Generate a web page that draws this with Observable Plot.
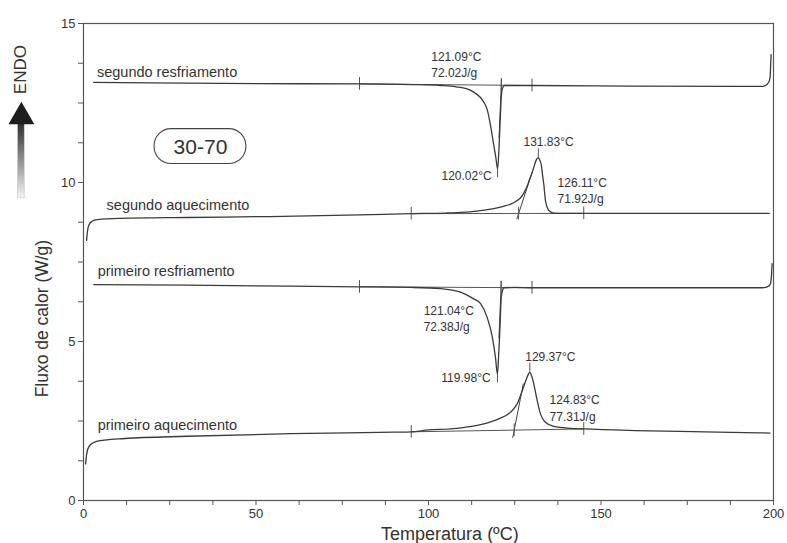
<!DOCTYPE html>
<html>
<head>
<meta charset="utf-8">
<script src="https://cdn.jsdelivr.net/npm/d3@7"></script>
<script src="https://cdn.jsdelivr.net/npm/@observablehq/plot@0.6"></script>
<style>
  body { margin: 0; background: #fff; }
</style>
</head>
<body>
<div id="chart"></div>
<script>
// DSC thermograms of the 30-70 blend: heat flow (W/g) vs temperature (°C)

// segundo resfriamento (second cooling)
const resf2T = [2.9, 20, 50, 80, 95, 103.5, 108, 111, 113, 115, 116, 117, 118, 118.8, 119.5, 120.02, 120.4, 120.8, 121.1, 121.5, 122, 125, 130, 160, 190, 196.7, 197.8, 198.6, 199.0, 199.15, 199.3];
const resf2Q = [13.15, 13.13, 13.11, 13.1, 13.08, 13.05, 13.01, 12.95, 12.85, 12.68, 12.53, 12.3, 11.78, 11.25, 10.8, 10.43, 11.0, 12.0, 12.7, 12.98, 13.05, 13.05, 13.05, 13.03, 13.02, 13.02, 13.06, 13.15, 13.3, 13.6, 14.02];

// segundo aquecimento (second heating)
const aq2T = [0.9, 1.2, 1.5, 2.5, 4, 10.7, 30, 54, 80, 95, 105, 109.3, 114, 118.9, 122, 123.8, 125.5, 126.7, 127.7, 128.6, 129.3, 130, 131, 131.4, 131.83, 132.2, 132.7, 133.1, 133.4, 133.9, 134.4, 134.9, 136.3, 140, 145, 170, 198.8];
const aq2Q = [8.18, 8.5, 8.65, 8.78, 8.83, 8.87, 8.9, 8.93, 8.98, 9.02, 9.04, 9.06, 9.1, 9.18, 9.26, 9.32, 9.42, 9.52, 9.68, 9.88, 10.1, 10.3, 10.64, 10.74, 10.78, 10.72, 10.55, 10.2, 9.96, 9.43, 9.22, 9.12, 9.04, 9.03, 9.03, 9.03, 9.03];

// primeiro resfriamento (first cooling)
const resf1T = [3, 30, 60, 80, 95, 103.5, 109.3, 113.1, 115.1, 117, 118.5, 119.4, 119.98, 120.3, 120.6, 121.1, 121.5, 121.8, 125, 130, 160, 196.7, 198, 198.8, 199.2, 199.4, 199.6];
const resf1Q = [6.79, 6.77, 6.74, 6.72, 6.7, 6.66, 6.55, 6.34, 6.19, 5.76, 5.14, 4.51, 3.98, 4.5, 5.14, 6.39, 6.62, 6.69, 6.7, 6.69, 6.69, 6.69, 6.71, 6.76, 6.85, 7.05, 7.45];

// primeiro aquecimento (first heating)
const aq1T = [0.6, 0.9, 1.5, 3, 6, 12, 30, 60, 90, 95, 100, 106.4, 112, 116, 120, 123.8, 125.7, 127.2, 128.4, 129.0, 129.37, 129.8, 130.3, 131.3, 132.3, 133.9, 136.3, 141.2, 145, 160, 180, 199];
const aq1Q = [1.15, 1.45, 1.68, 1.83, 1.9, 1.95, 2.02, 2.1, 2.15, 2.16, 2.22, 2.25, 2.32, 2.41, 2.55, 2.78, 3.04, 3.46, 3.83, 3.98, 4.04, 3.95, 3.77, 3.25, 2.78, 2.46, 2.33, 2.27, 2.25, 2.2, 2.16, 2.12];

// curve names and where their names are written
const curveNames = ["segundo resfriamento", "segundo aquecimento", "primeiro resfriamento", "primeiro aquecimento"];
const nameT = [3.9, 6.7, 4.1, 4.1];
const nameQ = [13.46, 9.28, 7.2, 2.36];

// integration limits (T) and baseline heat flow at those limits
const limitStartT = [80, 95, 80, 95];
const limitStartQ = [13.1, 9.02, 6.72, 2.16];
const limitEndT = [130, 145, 130, 145];
const limitEndQ = [13.05, 9.03, 6.69, 2.25];

// onset temperatures, enthalpies, peak temperatures
const onsetT = [121.09, 126.11, 121.04, 124.83];
const onsetQ = [13.06, 9.02, 6.7, 2.21];
const enthalpy = [72.02, 71.92, 72.38, 77.31];
const peakT = [120.02, 131.83, 119.98, 129.37];
const peakQ = [10.43, 10.78, 3.98, 4.04];
const peakDir = [-1, 1, -1, 1];

// onset tangent lines (end points)
const tangentT1 = [121.17, 125.6, 121.12, 124.4];
const tangentQ1 = [13.27, 8.85, 6.9, 1.97];
const tangentT2 = [120.45, 130.1, 120.4, 127.5];
const tangentQ2 = [11.4, 10.34, 5.1, 3.68];

// annotation positions
const onsetLabelT = [100.8, 137.4, 98.6, 135.1];
const onsetLabelQ = [13.93, 9.97, 5.95, 3.13];
const peakLabelT = [118.3, 134.8, 118.0, 135.3];
const peakLabelQ = [10.2, 11.26, 3.86, 4.5];

const xTicks = d3.range(0, 200.01, 12.5);
const yTicks = d3.range(0, 15.01, 1.25);

const sampleName = "30-70";

// ---- tables built from the arrays above ----
const curveT = [resf2T, aq2T, resf1T, aq1T];
const curveQ = [resf2Q, aq2Q, resf1Q, aq1Q];
const curveRows = curveNames.flatMap((name, i) =>
  curveT[i].map((t, j) => ({curve: name, T: t, Q: curveQ[i][j]})));

const idx = d3.range(curveNames.length);
const baselines = idx.map(i => ({x1: limitStartT[i], y1: limitStartQ[i], x2: limitEndT[i], y2: limitEndQ[i]}));
const tangents = idx.map(i => ({x1: tangentT1[i], y1: tangentQ1[i], x2: tangentT2[i], y2: tangentQ2[i]}));
const tickHalf = 0.2;
const limitTicks = idx.flatMap(i => [
  {T: limitStartT[i], Q: limitStartQ[i]},
  {T: limitEndT[i], Q: limitEndQ[i]},
  {T: onsetT[i], Q: onsetQ[i]}
]);
const peakTicks = idx.map(i => ({T: peakT[i], q1: peakQ[i], q2: peakQ[i] + peakDir[i] * 0.28}));
const onsetLabels = idx.map(i => ({
  T: onsetLabelT[i], Q: onsetLabelQ[i],
  text: `${onsetT[i].toFixed(2)}°C\n${enthalpy[i].toFixed(2)}J/g`
}));
const peakLabels = idx.map(i => ({
  T: peakLabelT[i], Q: peakLabelQ[i], cooling: peakDir[i] < 0,
  text: `${peakT[i].toFixed(2)}°C`
}));
const names = idx.map(i => ({T: nameT[i], Q: nameQ[i], text: curveNames[i]}));

// gradient used by the ENDO arrow shaft
function endoGradient() {
  const defs = d3.create("svg:defs");
  const g = defs.append("linearGradient")
    .attr("id", "endoGrad").attr("x1", 0).attr("y1", 0).attr("x2", 0).attr("y2", 1);
  g.append("stop").attr("offset", "0%").attr("stop-color", "#2a2a2a");
  g.append("stop").attr("offset", "100%").attr("stop-color", "#f4f4f4");
  return defs.node();
}

const ink = "#333";
const font = "Liberation Sans, Arial, Helvetica, sans-serif";

const chart = Plot.plot({
  width: 787,
  height: 543,
  marginLeft: 83,
  marginRight: 14,
  marginTop: 23,
  marginBottom: 43,
  x: {domain: [0, 200]},
  y: {domain: [0, 15]},
  style: {fontFamily: font, color: ink, background: "#fff"},
  marks: [
    endoGradient,
    Plot.frame({stroke: "#555", strokeWidth: 1.2}),
    Plot.axisX({ticks: xTicks, tickFormat: d => d % 50 === 0 ? d : "", tickSize: 5, tickPadding: 3,
      fontSize: 13, stroke: "#555", label: null}),
    Plot.axisY({ticks: yTicks, tickFormat: d => d % 5 === 0 ? d : "", tickSize: 5, tickPadding: 3,
      fontSize: 13, stroke: "#555", label: null}),
    // integration baselines, onset tangents, limit ticks, peak ticks
    Plot.link(baselines, {x1: "x1", y1: "y1", x2: "x2", y2: "y2", stroke: "#555", strokeWidth: 1}),
    Plot.link(tangents, {x1: "x1", y1: "y1", x2: "x2", y2: "y2", stroke: "#444", strokeWidth: 1}),
    Plot.ruleX(limitTicks, {x: "T", y1: d => d.Q - tickHalf, y2: d => d.Q + tickHalf, stroke: "#555", strokeWidth: 1}),
    Plot.ruleX(peakTicks, {x: "T", y1: "q1", y2: "q2", stroke: "#555", strokeWidth: 1}),
    // the four thermograms
    Plot.line(curveRows, {x: "T", y: "Q", z: "curve", stroke: "#3a3a3a", strokeWidth: 1.3, curve: "monotone-x"}),
    // curve names
    Plot.text(names, {x: "T", y: "Q", text: "text", textAnchor: "start", fontSize: 14.5, fill: ink}),
    // annotations
    Plot.text(onsetLabels, {x: "T", y: "Q", text: "text", textAnchor: "start", lineAnchor: "top",
      lineHeight: 1.35, fontSize: 12, fill: ink, dy: -8}),
    Plot.text(peakLabels.filter(d => d.cooling), {x: "T", y: "Q", text: "text", textAnchor: "end", fontSize: 12, fill: ink}),
    Plot.text(peakLabels.filter(d => !d.cooling), {x: "T", y: "Q", text: "text", textAnchor: "middle", fontSize: 12, fill: ink}),
    // sample label in a rounded box
    Plot.rect([{x1: 20.6, x2: 47.2, y1: 10.58, y2: 11.68}], {x1: "x1", x2: "x2", y1: "y1", y2: "y2",
      fill: "none", stroke: "#444", strokeWidth: 1.1, rx: 17}),
    Plot.text([sampleName], {x: 33.9, y: 11.12, text: d => d, fontSize: 21, fill: ink}),
    // ENDO arrow
    Plot.rect([{x1: -18.95, x2: -17.05, y1: 9.5, y2: 11.9}], {x1: "x1", x2: "x2", y1: "y1", y2: "y2",
      fill: "url(#endoGrad)", stroke: "#bbb", strokeWidth: 0.5}),
    Plot.dot([{x: -18.0, y: 12.07}], {x: "x", y: "y", symbol: "triangle", r: 9.6, fill: "#1e1e1e", stroke: "none"}),
    Plot.text(["ENDO"], {x: -18.3, y: 13.55, text: d => d, rotate: -90, fontSize: 17, fill: ink}),
    // axis titles
    Plot.text(["Fluxo de calor (W/g)"], {x: -11.9, y: 5.72, text: d => d, rotate: -90, fontSize: 17.5, fill: ink}),
    Plot.text(["Temperatura (ºC)"], {x: 106.2, y: -1.05, text: d => d, fontSize: 18, fill: ink})
  ]
});

document.getElementById("chart").append(chart);
</script>
</body>
</html>
